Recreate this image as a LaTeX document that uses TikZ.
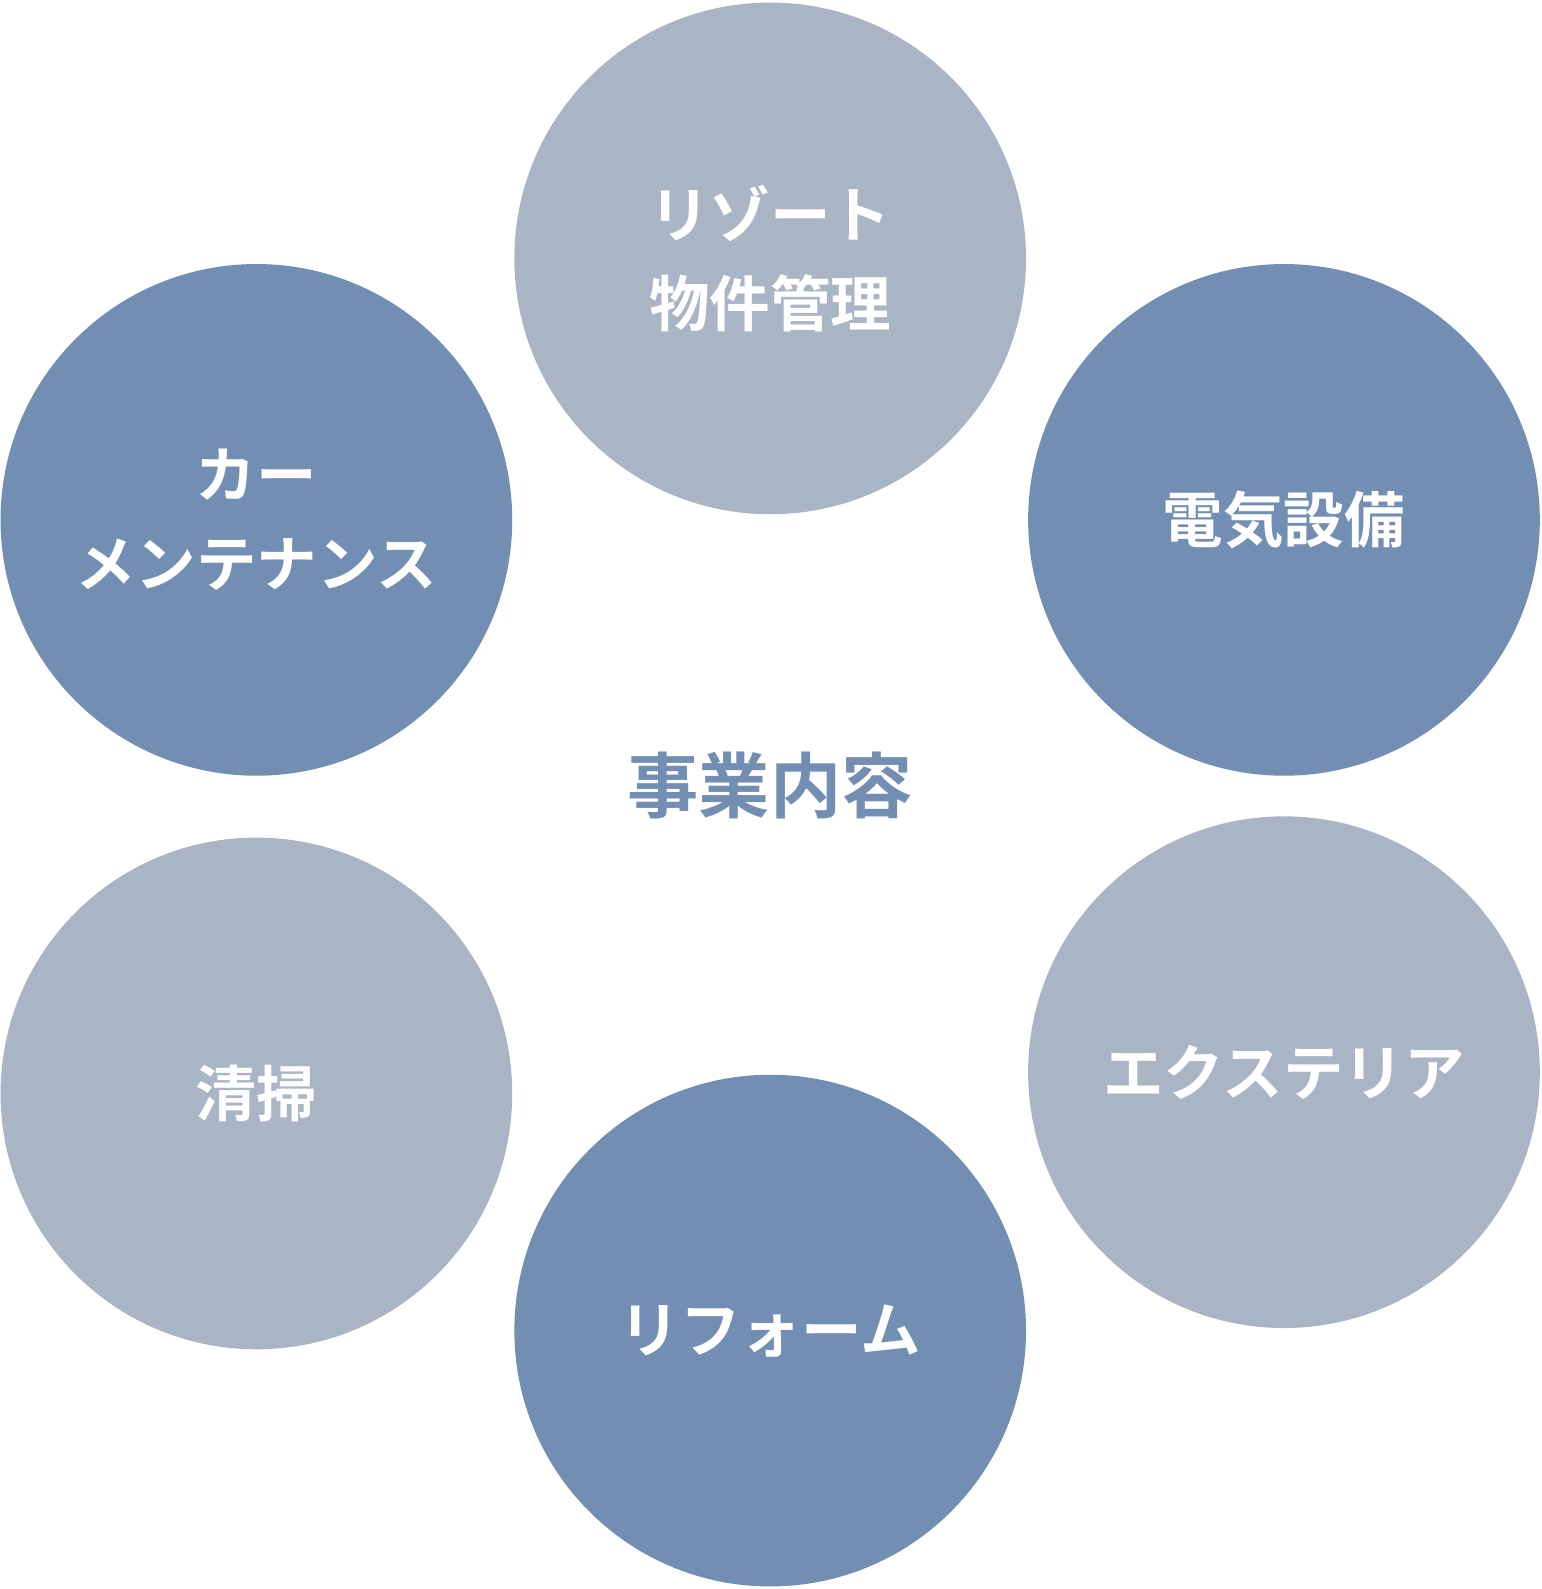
\documentclass[tikz,border=0pt]{standalone}
\usepackage{fontspec}
\newfontfamily\jpfont{Noto Sans CJK JP Bold}
\definecolor{lightblue}{HTML}{A9B5C5}
\definecolor{darkblue}{HTML}{728EB2}
\tikzset{
	biz/.style = {circle, minimum size=10.1cm, inner sep=0pt, text=white,
		align=center, font=\jpfont\fontsize{34}{50}\selectfont},
	light/.style = {biz, fill=lightblue},
	dark/.style = {biz, fill=darkblue}
}
\begin{document}
\begin{tikzpicture}[x=0.02cm, y=-0.02cm]
		\useasboundingbox (0,0) rectangle (1521,1568);
		\node[light] (resort) at (760,255) {リゾート\\物件管理};
		\node[dark] (car) at (253,513) {カー\\メンテナンス};
		\node[dark] (denki) at (1267,513) {電気設備};
		\node[light] (exterior) at (1267,1058) {エクステリア};
		\node[light] (seisou) at (253,1079) {清掃};
		\node[dark] (reform) at (760,1313) {リフォーム};
		\node[text=darkblue, font=\jpfont\fontsize{40}{48}\selectfont] (jigyou) at (760,775) {事業内容};
	\end{tikzpicture}
\end{document}
